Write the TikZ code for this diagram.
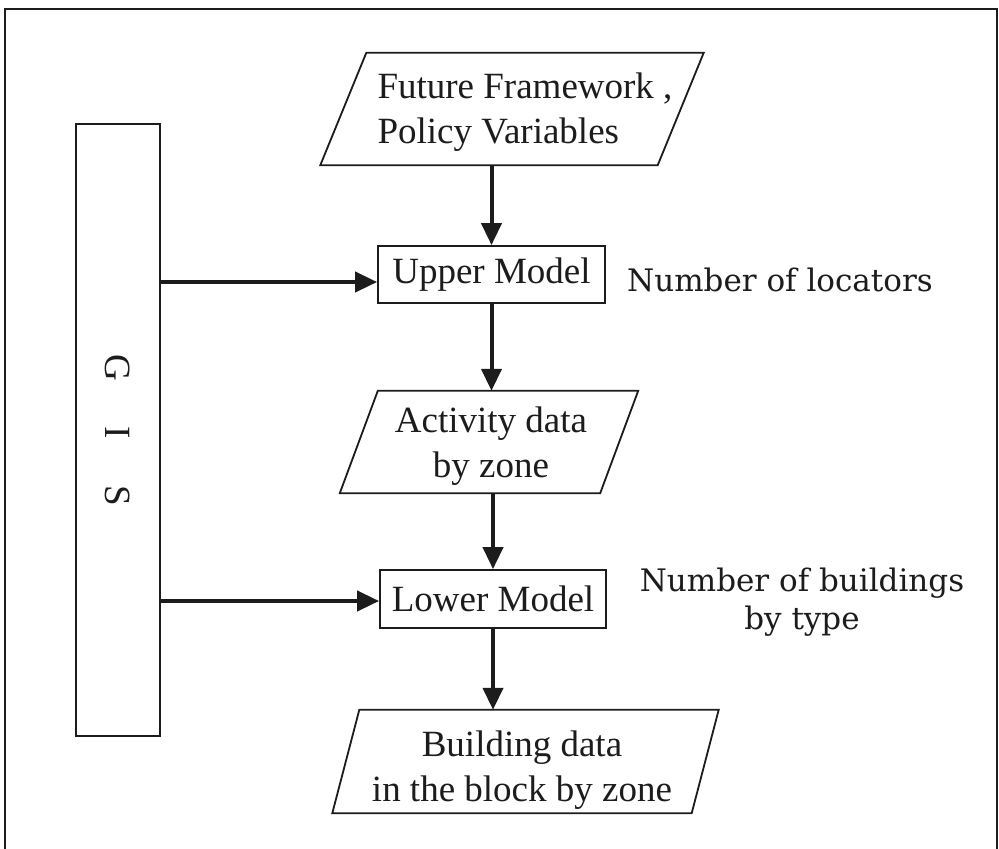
\documentclass[tikz,border=0pt]{standalone}
\usepackage{fontspec}
\setmainfont{Liberation Serif}
\newfontfamily\sidefont{DejaVu Serif}
\usetikzlibrary{arrows.meta}
\definecolor{ink}{HTML}{1C1C1C}
\tikzset{
  boxline/.style={draw=ink, line width=1.8pt},
  arr/.style={draw=ink, line width=4pt, -{Triangle[length=22pt,width=20pt]}},
  mainlbl/.style={text=ink, inner sep=0pt, font=\fontsize{37}{45}\selectfont},
  sidelbl/.style={text=ink, inner sep=0pt, align=center, font=\sidefont\fontsize{31}{38}\selectfont},
  shapebox/.style={inner sep=0pt, draw=none}
}
% name, cx, cy, w, h, slant
\newcommand{\paragram}[6]{%
  \node[shapebox, minimum width=#4pt, minimum height=#5pt] (#1) at (#2,#3) {};
  \draw[boxline, line join=miter]
    ([xshift=#6pt/2]#1.north west) -- ([xshift=#6pt/2]#1.north east) --
    ([xshift=-#6pt/2]#1.south east) -- ([xshift=-#6pt/2]#1.south west) -- cycle;
}
\begin{document}
\begin{tikzpicture}[x=1pt,y=-1pt]
\useasboundingbox (0,0) rectangle (999,849);
\fill[white] (0,0) rectangle (999,849);
% outer frame
\draw[ink, line width=1.6pt] (5,860) -- (5,9) -- (997,9) -- (997,860);

% GIS box
\node[boxline, minimum width=84pt, minimum height=612pt, inner sep=0pt] (gis) at (118,430) {};
\node[mainlbl, rotate=-90] (gislbl) at (gis.center) {G\hspace{46pt}I\hspace{46pt}S};

% parallelograms
\paragram{ff}{512}{109}{337}{112}{46}
\node[mainlbl, align=left] (fftext) at (525,112) {Future Framework ,\\Policy Variables};

\paragram{act}{489}{442}{260}{102}{38}
\node[mainlbl, align=center] (acttext) at (491,446) {Activity data\\by zone};

\paragram{bld}{525.5}{761.5}{359}{103}{27}
\node[mainlbl, align=center] (bldtext) at (522,770) {Building data\\in the block by zone};

% model boxes
\node[boxline, mainlbl, minimum width=227pt, minimum height=57pt] (up) at (491.5,274.5) {Upper Model};
\node[boxline, mainlbl, minimum width=226pt, minimum height=58pt] (low) at (493,599) {Lower Model};

% side labels
\node[sidelbl] (loc) at (780,280) {Number of locators};
\node[sidelbl] (bldg) at (802,602) {Number of buildings\\by type};

% arrows
\draw[arr] (up.north |- ff.south) -- (up.north);
\draw[arr] (up.south) -- (up.south |- act.north);
\draw[arr] (low.north |- act.south) -- (low.north);
\draw[arr] (low.south) -- (low.south |- bld.north);
\draw[arr] (gis.east |- 0,282) -- (up.west |- 0,282);
\draw[arr] (gis.east |- 0,601) -- (low.west |- 0,601);
\end{tikzpicture}
\end{document}
